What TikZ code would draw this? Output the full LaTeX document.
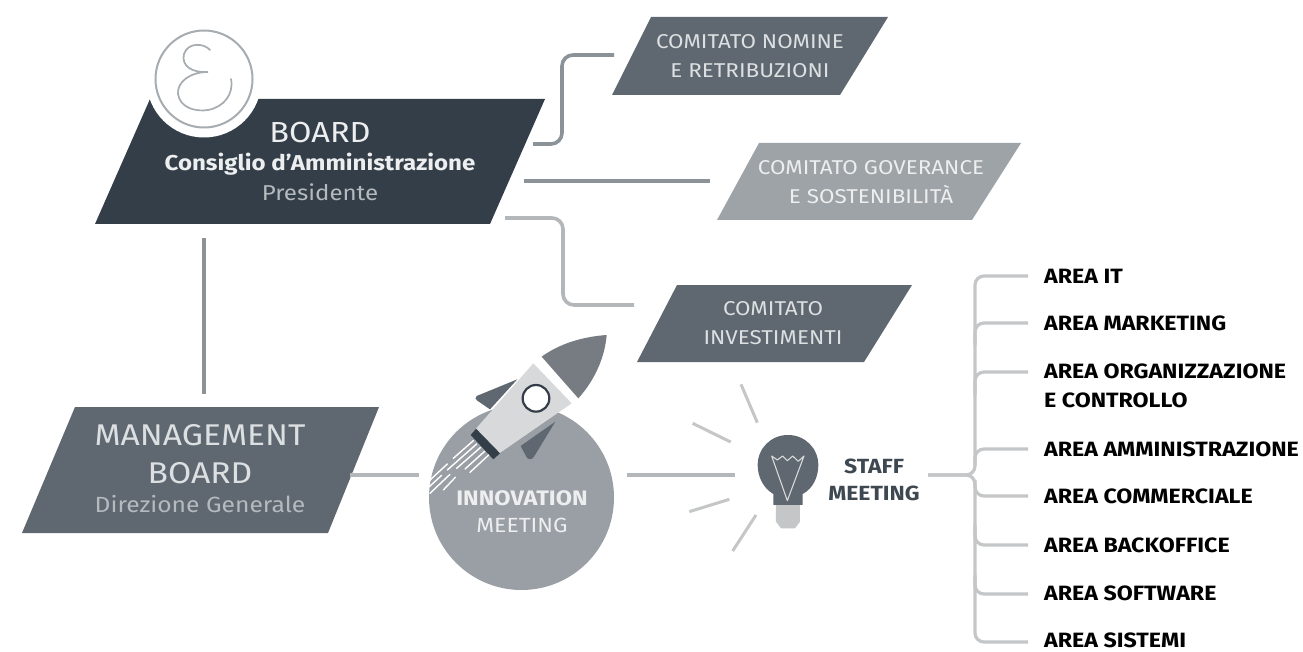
\documentclass[tikz,border=0pt]{standalone}
\usepackage{fontspec}
\setmainfont[FakeStretch=1.12]{Fira Sans}
\definecolor{boardc}{HTML}{333E48}
\definecolor{midc}{HTML}{5F6870}
\definecolor{lightc}{HTML}{9EA3A8}
\definecolor{circc}{HTML}{9A9FA5}
\definecolor{lineA}{HTML}{8B9298}
\definecolor{lineB}{HTML}{B4B7B9}
\definecolor{lineC}{HTML}{C4C6C7}
\definecolor{whitish}{HTML}{EDEEEF}
\definecolor{softw}{HTML}{B5BABE}
\definecolor{softm}{HTML}{DDE0E2}
\definecolor{logoc}{HTML}{A6ACB0}
\definecolor{bodyc}{HTML}{D8D9DA}
\tikzset{
  x=1pt,y=-1pt,
  conn/.style={line width=3.6pt,rounded corners=11pt},
  bus/.style={line width=3.2pt,color=lineC,rounded corners=9pt},
  ray/.style={line width=3pt,color=lineC},
  lab/.style={align=center,inner sep=0pt,text=whitish},
  area/.style={anchor=west,inner sep=0pt,align=left,font=\fontsize{20.7}{28.5}\selectfont\bfseries,text=black},
  flame/.style={line width=1.4pt,color=white,line cap=round},
}
\begin{document}
\begin{tikzpicture}
\useasboundingbox (0,0) rectangle (1303,652);
\fill[white] (0,0) rectangle (1303,652);

% connector end points
\coordinate (bA) at (533,144); \coordinate (bAk) at (562,144); \coordinate (bAt) at (562,55); \coordinate (cA) at (614,55);
\coordinate (bB) at (524,181); \coordinate (cB) at (710,181);
\coordinate (bC) at (505,218); \coordinate (bCk) at (563,218); \coordinate (bCt) at (563,305); \coordinate (cC) at (634,305);
\coordinate (bD) at (204,238); \coordinate (mT) at (204,394);
\coordinate (mR) at (350,475); \coordinate (iL) at (419,475);
\coordinate (iR) at (627,475); \coordinate (sL) at (735,475);
\coordinate (sR) at (928,475); \coordinate (jn) at (975,475);
\coordinate (busT) at (975,276); \coordinate (busB) at (975,642);

% shapes
\fill[boardc] (95,224) -- (490,224) -- (545,99) -- (150,99) -- cycle;
\fill[white] (204,80) circle (57.5);
\draw[logoc,line width=2pt] (204,79) circle (48.5);
\draw[logoc,line width=1.7pt,line cap=round]
  (210,50) .. controls (204,43) and (188,42) .. (184,54)
  .. controls (181,66) and (192,73) .. (208,72)
  .. controls (190,72) and (177,82) .. (178,94)
  .. controls (180,108) and (196,112) .. (208,110)
  .. controls (224,107) and (234,94) .. (231,79);
\fill[midc] (612,95) -- (840,95) -- (888,17) -- (651,17) -- cycle;
\fill[lightc] (717,220) -- (972,220) -- (1021,143) -- (759,143) -- cycle;
\fill[midc] (637,362) -- (864,362) -- (912,285) -- (677,285) -- cycle;
\fill[midc] (22,533) -- (328,533) -- (379,407) -- (75,407) -- cycle;
\fill[circc] (521.5,497.5) circle (92.5);

% connectors
\draw[conn,lineA] (bA) -- (bAk) -- (bAt) -- (cA);
\draw[conn,lineA,rounded corners=0pt] (bB) -- (cB);
\draw[conn,lineB] (bC) -- (bCk) -- (bCt) -- (cC);
\draw[conn,lineA,rounded corners=0pt] (bD) -- (mT);
\draw[conn,lineB,rounded corners=0pt] (mR) -- (iL);
\draw[conn,lineB,rounded corners=0pt] (iR) -- (sL);

% rocket (coordinates of the 3x crop at 410,320)
\begin{scope}[shift={(410,320)},x=0.3333pt,y=-0.3333pt]
  \fill[midc] (322,178) -- (200,228) .. controls (194,234) and (196,238) .. (202,242) -- (240,268) -- cycle;
  \fill[midc] (436,305) -- (372,410) .. controls (366,420) and (356,420) .. (350,412) -- (332,378) -- cycle;
  \fill[lineA!85!black] (395,110) .. controls (450,70) and (520,50) .. (590,45)
     .. controls (585,110) and (555,180) .. (505,235) -- cycle;
  \fill[bodyc] (370,130) -- (485,250) -- (268,400) -- (190,335) -- cycle;
  \fill[boardc] (198,326) -- (270,400) -- (250,418) -- (182,345) -- cycle;
  \draw[boardc,line width=2.2pt,fill=white] (378,235) circle (40);
  \draw[flame] (190,362) -- (130,415) (112,432) -- (58,482);
  \draw[flame] (200,372) -- (112,450) (95,466) -- (58,500);
  \draw[flame] (212,382) -- (140,445) (120,463) -- (60,520);
  \draw[flame] (224,394) -- (165,447) (136,472) -- (100,510);
  \draw[flame] (236,405) -- (180,457);
\end{scope}

% bulb (coordinates of the 3x crop at 670,370)
\begin{scope}[shift={(670,370)},x=0.3333pt,y=-0.3333pt]
  \fill[lineC] (318,405) -- (390,405) -- (390,455) -- (375,475) -- (333,475) -- (318,455) -- cycle;
  \fill[midc] (310,405) -- (398,405) -- (398,372)
     .. controls (430,355) and (445,320) .. (445,285)
     .. controls (445,235) and (405,195) .. (354,195)
     .. controls (303,195) and (263,235) .. (263,285)
     .. controls (263,320) and (280,355) .. (310,372) -- cycle;
  \draw[bodyc,line width=1.1pt,line join=round] (305,258) -- (352,392) -- (402,258) -- (385,274) -- (368,258) -- (352,272) -- (338,258) -- (322,270) -- cycle;
  \draw[ray] (213,43) -- (262,158);
  \draw[ray] (68,160) -- (182,216);
  \draw[ray] (58,425) -- (178,388);
  \draw[ray] (188,543) -- (258,435);
\end{scope}

% labels
\node[lab,font=\fontsize{29}{32}\selectfont] (nboard) at (320,133) {BOARD};
\node[lab,font=\fontsize{21.5}{24}\selectfont\bfseries] (ncons) at (320,164.5) {Consiglio d'Amministrazione};
\node[lab,text=softw,font=\fontsize{21.5}{24}\selectfont] (npres) at (320,192.5) {Presidente};
\node[lab,text=softm,font=\fontsize{20}{29}\selectfont] (nnom) at (750,56) {COMITATO NOMINE\\E RETRIBUZIONI};
\node[lab,font=\fontsize{20}{29}\selectfont] (ngov) at (871,182) {COMITATO GOVERANCE\\E SOSTENIBILITÀ};
\node[lab,text=softm,font=\fontsize{20}{29}\selectfont] (ninv) at (773,323.5) {COMITATO\\INVESTIMENTI};
\node[lab,text=softm,font=\fontsize{30}{38}\selectfont] (nman) at (200,454) {MANAGEMENT\\BOARD};
\node[lab,text=softw,font=\fontsize{22}{24}\selectfont] (ndir) at (200,504) {Direzione Generale};
\node[lab,font=\fontsize{21}{24}\selectfont\bfseries] (ninn) at (522,498) {INNOVATION};
\node[lab,font=\fontsize{20.5}{24}\selectfont] (nmee) at (522,525) {MEETING};
\node[lab,text=boardc!85!gray,font=\fontsize{20.5}{27}\selectfont\bfseries] (nstaff) at (874,479.5) {STAFF\\MEETING};

% areas and their bus
\node[area] (a1) at (1044,276) {AREA IT};
\node[area] (a2) at (1044,323.5) {AREA MARKETING};
\node[area,anchor=north west] (a3) at (1044,364) {AREA ORGANIZZAZIONE\\E CONTROLLO};
\node[area] (a4) at (1044,449) {AREA AMMINISTRAZIONE};
\node[area] (a5) at (1044,496.5) {AREA COMMERCIALE};
\node[area] (a6) at (1044,545) {AREA BACKOFFICE};
\node[area] (a7) at (1044,593.5) {AREA SOFTWARE};
\node[area] (a8) at (1044,640.5) {AREA SISTEMI};
\coordinate (e1) at (1028,276); \coordinate (e2) at (1028,323); \coordinate (e3) at (1028,372);
\coordinate (e4) at (1028,449); \coordinate (e5) at (1028,496); \coordinate (e6) at (1028,545);
\coordinate (e7) at (1028,594); \coordinate (e8) at (1028,642);
\draw[bus] (e1) -- (busT) -- (jn) -- (sR);
\draw[bus] (e8) -- (busB) -- (jn) -- (sR);
\draw[bus] (e2) -- (975,323) -- (975,345);
\draw[bus] (e3) -- (975,372) -- (975,395);
\draw[bus] (e4) -- (975,449) -- (975,465);
\draw[bus] (e5) -- (975,496) -- (975,480);
\draw[bus] (e6) -- (975,545) -- (975,525);
\draw[bus] (e7) -- (975,594) -- (975,575);
\end{tikzpicture}
\end{document}
